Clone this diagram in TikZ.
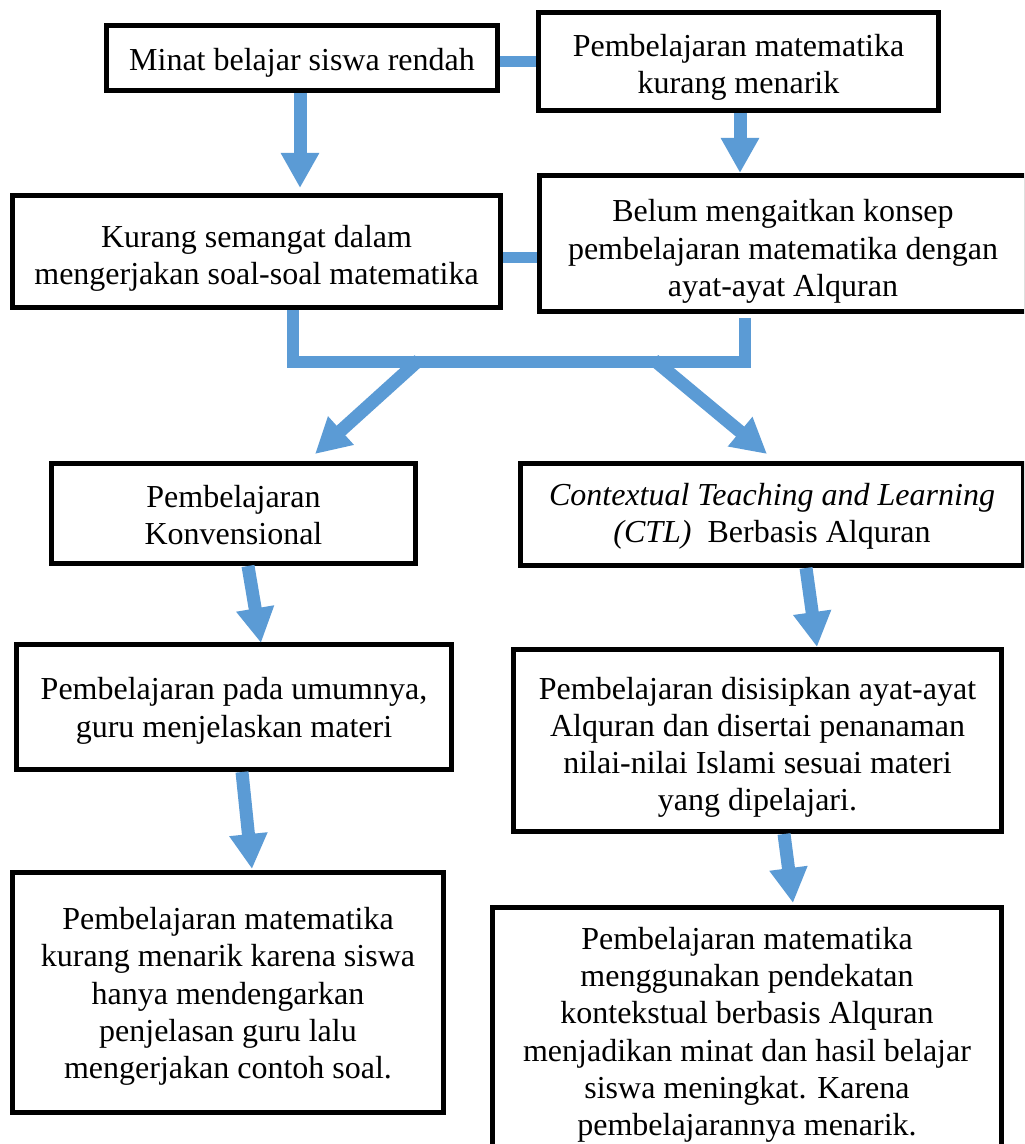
\documentclass[tikz,border=0pt]{standalone}
\usepackage{fontspec}
\setmainfont{Liberation Serif}
\usetikzlibrary{arrows.meta,calc}
\definecolor{ablue}{RGB}{91,155,213}
\newcommand\lowr[1]{\rule{0pt}{#1}}
\begin{document}
\begin{tikzpicture}[x=0.5pt,y=-0.5pt,
 box/.style={draw=black, line width=2.5pt, fill=white, align=center, inner sep=0pt,
   font=\fontsize{16pt}{18.6pt}\selectfont},
 arr/.style={draw=ablue, line width=6.5pt, -{Triangle[width=18pt,length=17.5pt]}},
 conn/.style={draw=ablue, line width=6pt, line join=miter},
 stub/.style={draw=ablue, line width=5.5pt}]
\clip (0,0) rectangle (1024,1144);
\fill[white] (0,0) rectangle (1024,1144);

\node[box, minimum width=195.5pt, minimum height=32.5pt] (b1) at (302,58) {\lowr{16pt}Minat belajar siswa rendah};
\node[box, minimum width=200pt, minimum height=49pt] (b2) at (738.5,61.5) {\lowr{17pt}Pembelajaran matematika\\kurang menarik};
\node[box, minimum width=244pt, minimum height=56pt] (b3) at (256.5,251.5) {\lowr{18pt}Kurang semangat dalam\\mengerjakan soal-soal matematika};
\node[box, minimum width=243.5pt, minimum height=68pt] (b4) at (783,243.5) {\lowr{19pt}Belum mengaitkan konsep\\pembelajaran matematika dengan\\ayat-ayat Alquran};
\node[box, minimum width=182pt, minimum height=50pt] (b5) at (233.5,513.5) {\lowr{13pt}Pembelajaran\\Konvensional};
\node[box, minimum width=251.5pt, minimum height=51pt] (b6) at (772,514.5) {\lowr{13pt}\textit{Contextual Teaching and Learning}\\\textit{(CTL)}\ \ Berbasis Alquran};
\node[box, minimum width=217.5pt, minimum height=62.5pt] (b7) at (234,707) {\lowr{15pt}Pembelajaran pada umumnya,\\guru menjelaskan materi};
\node[box, minimum width=244pt, minimum height=91pt] (b8) at (757.5,740.5) {\lowr{18pt}Pembelajaran disisipkan ayat-ayat\\Alquran dan disertai penanaman\\nilai-nilai Islami sesuai materi\\yang dipelajari.};
\node[box, minimum width=215.5pt, minimum height=120pt] (b9) at (228,992.5) {\lowr{15pt}Pembelajaran matematika\\kurang menarik karena siswa\\hanya mendengarkan\\penjelasan guru lalu\\mengerjakan contoh soal.};
\node[box, minimum width=254.5pt, minimum height=125pt] (b10) at (747,1032.5) {\lowr{13.5pt}Pembelajaran matematika\\menggunakan pendekatan\\kontekstual berbasis Alquran\\menjadikan minat dan hasil belajar\\siswa meningkat. Karena\\pembelajarannya menarik.};

% stubs between side-by-side boxes
\coordinate (s1) at ($(b1.east)+(0,4)$);
\draw[stub] (s1) -- (s1 -| b2.west);
\coordinate (s2) at ($(b3.east)+(0,6.5)$);
\draw[stub] (s2) -- (s2 -| b4.west);

% vertical arrows top
\draw[arr] ($(b1.south)+(-2,0)$) -- ($(b1.south |- b3.north)+(-2,-5)$);
\draw[arr] ($(b2.south)+(1.5,0)$) -- ($(b2.south |- b4.north)+(1.5,0)$);

% bracket
\coordinate (L) at ($(b3.south)+(36.5,0)$);
\coordinate (R) at ($(b4.south)+(-38,4)$);
\draw[conn] (L) |- ($(R)+(0,44)$) -- (R);
\coordinate (dl) at ($(L)+(126,50)$);
\coordinate (dr) at ($(R)+(-91,42)$);
\draw[arr] (dl) -- ($(b5.north)+(81.5,-7)$);
\draw[arr] (dr) -- ($(b6.north)+(-5,-7)$);

% lower arrows
\draw[arr] ($(b5.south)+(14.5,0)$) -- ($(b7.north)+(27,1)$);
\draw[arr] ($(b6.south)+(34,0)$) -- ($(b8.north)+(59.5,0)$);
\draw[arr] ($(b7.south)+(8,0)$) -- ($(b9.north)+(24,-1)$);
\draw[arr] ($(b8.south)+(26.5,0)$) -- ($(b10.north)+(46,-2)$);
\end{tikzpicture}
\end{document}
